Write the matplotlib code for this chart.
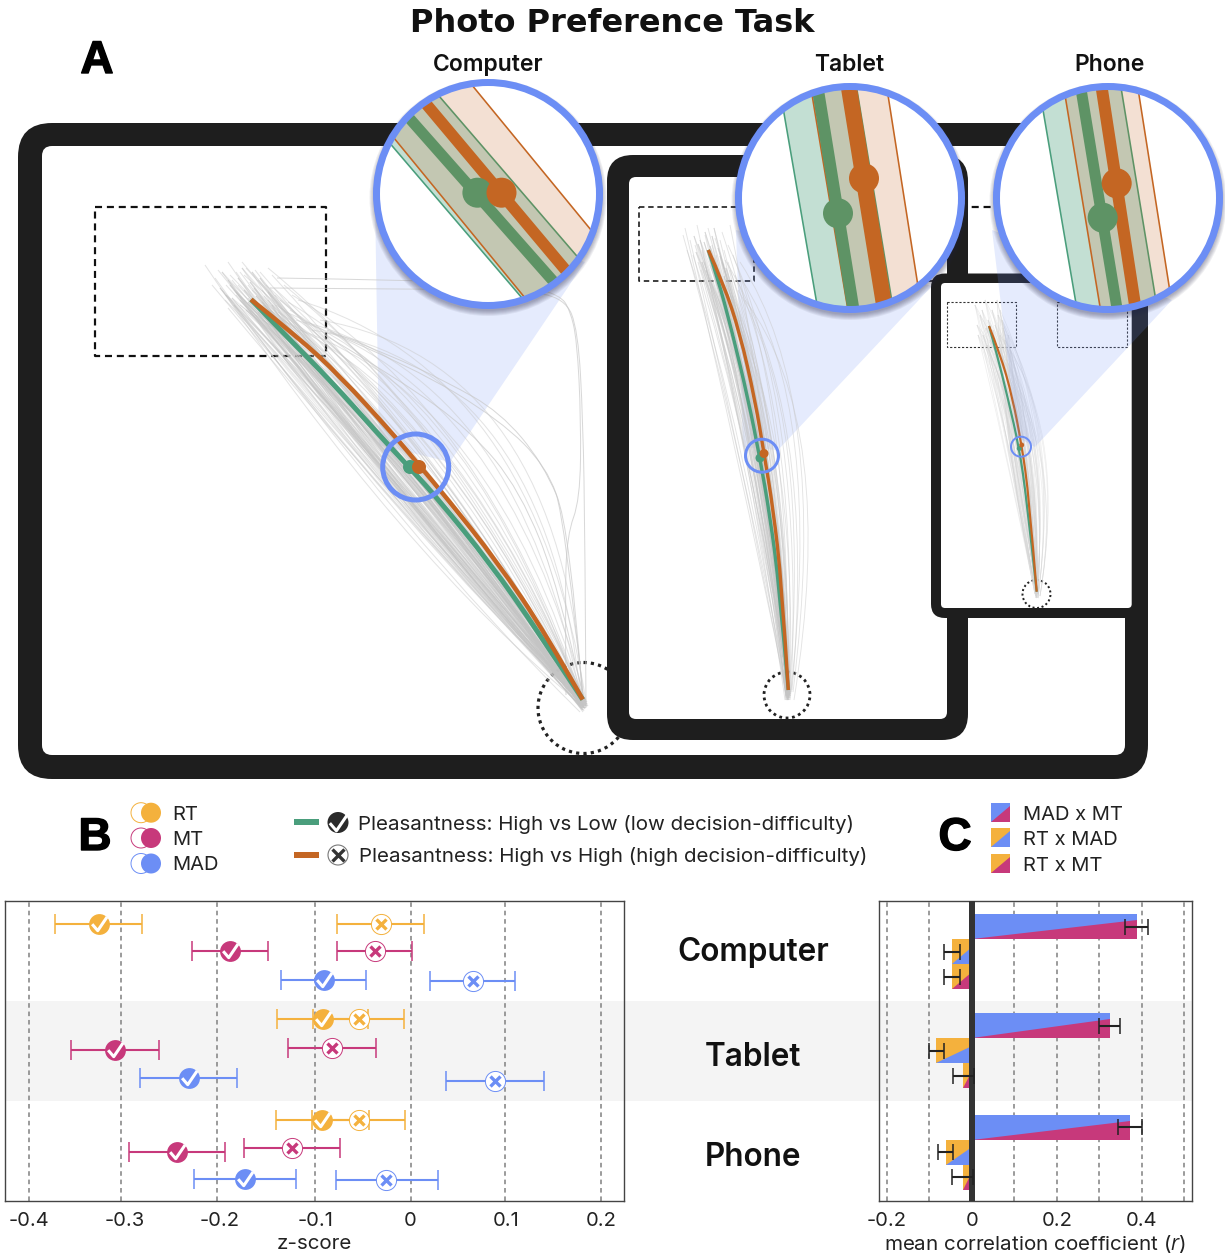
import matplotlib
matplotlib.use("Agg")
import matplotlib.pyplot as plt
import matplotlib.patheffects as pe
from matplotlib.patches import FancyBboxPatch, Circle, Polygon, PathPatch, Rectangle
from matplotlib.path import Path

plt.rcParams['font.family'] = ['Inter', 'DejaVu Sans']
plt.rcParams['mathtext.fontset'] = 'custom'
plt.rcParams['mathtext.it'] = 'Open Sans:italic'
plt.rcParams['mathtext.rm'] = 'Inter'

RT, MT, MAD = '#F4B13D', '#C7397B', '#6C8EF5'
GREEN, ORANGE = '#4A9E7C', '#C46623'
DGREEN = '#5E9365'
DARK = '#1E1E1E'
P = 0.72  # points per pixel

# ---- Panel B data ----
devices = ['Computer', 'Tablet', 'Phone']
measures = ['RT', 'MT', 'MAD']
b_ticks = [-0.4, -0.3, -0.2, -0.1, 0, 0.1, 0.2]
b_labels = ['-0.4', '-0.3', '-0.2', '-0.1', '0', '0.1', '0.2']
b_grid = [-0.4, -0.3035, -0.2035, -0.1003, 0, 0.0995, 0.1995]
check_mean = [-0.327, -0.189, -0.0908, -0.092, -0.310, -0.2326, -0.0925, -0.2454, -0.1739]
check_lo = [-0.3726, -0.229, -0.1358, -0.1396, -0.3567, -0.284, -0.1413, -0.2955, -0.227]
check_hi = [-0.2814, -0.150, -0.0467, -0.0445, -0.2642, -0.1816, -0.0437, -0.1949, -0.1203]
cross_mean = [-0.0308, -0.0368, 0.0655, -0.0544, -0.0822, 0.0891, -0.0544, -0.1246, -0.0253]
cross_lo = [-0.0767, -0.0767, 0.0206, -0.1019, -0.1285, 0.0377, -0.1036, -0.1752, -0.0779]
cross_hi = [0.0141, 0.002, 0.1092, -0.0073, -0.036, 0.1396, -0.0056, -0.0745, 0.0291]
check_row = [23, 50, 79, 118, 149, 177, 219, 251, 278]
cross_row = [23, 50, 80, 118, 147, 180, 219, 247, 279]
row_colors = [RT, MT, MAD] * 3

# ---- Panel C data ----
c_pairs = ['MAD x MT', 'RT x MAD', 'RT x MT']
c_vals = [0.389, -0.0463, -0.0463, 0.3247, -0.0831, -0.0196, 0.3725, -0.0604, -0.0212]
c_lo = [0.361, -0.0659, -0.0659, 0.300, -0.0996, -0.0447, 0.3435, -0.0784, -0.0455]
c_hi = [0.4157, -0.0267, -0.0267, 0.349, -0.0643, 0.0047, 0.4008, -0.0431, 0.0031]
c_top = [13, 38, 63, 112, 137, 162, 213.5, 238.5, 263.5]
c_height = 25
c_colors = [(MAD, MT), (RT, MAD), (RT, MT)] * 3
c_ticks = [-0.2, 0, 0.2, 0.4]
c_labels = ['-0.2', '0', '0.2', '0.4']
c_grid = [-0.2, -0.1, 0.1, 0.2, 0.3, 0.4, 0.5]

# ---- Panel A data (pixel positions on the device sketches) ----
comp_orange = [(251,299.5),(296.7,336),(340,376),(393,434),(419,465),(446.7,498),(496.7,561),(546.7,635),(582.7,699.5)]
comp_green = [(251,299.5),(290,340),(330,380),(380,436),(410,468),(438,499),(490,563),(537,630),(582.7,699.5)]
tab_orange = [(708.3,250),(723.3,283.3),(740,333.3),(755,400),(764,453.3),(773.3,510),(781.7,583.3),(788.3,690)]
tab_green = [(708.3,250),(717.3,276.7),(731.7,330),(748.3,400),(760,458.3),(770,516.7),(779.3,586.7),(788.3,690)]
pho_orange = [(989,326),(1000,353.3),(1012.3,396.7),(1021.7,445),(1029,496.7),(1036.7,591.7)]
pho_green = [(989,326),(996.7,353.3),(1008.3,400),(1019.3,448.3),(1026.7,500),(1036.7,591.7)]

comp_traj = [
 (205,265,400,555,585,708),(215,278,405,540,580,712),(228,262,410,530,586,706),(222,290,395,520,584,705),
 (232,280,420,515,582,710),(240,272,415,505,587,704),(212,285,392,500,583,700),(248,285,430,505,581,708),
 (236,295,400,490,585,702),(255,270,425,490,583,712),(244,300,412,480,586,700),(262,290,438,488,584,706),
 (225,300,398,475,582,704),(250,310,420,470,580,702),(268,300,440,475,585,709),(238,285,405,465,587,707),
 (258,280,428,462,583,703),(272,275,445,462,581,700),(246,268,418,455,584,708),(230,275,402,450,586,702),
 (263,305,432,452,582,706),(275,295,450,452,585,704),(252,290,422,445,583,700),(240,305,408,440,588,706),
 (266,285,436,438,584,711),(280,300,455,440,582,702),(256,315,425,432,586,705),(270,310,442,428,583,708),
 (284,285,462,430,585,700),(262,320,432,420,581,704),(276,305,452,418,586,708),(290,310,470,420,584,702),
 (244,275,420,425,583,706),(268,268,448,415,587,704),(282,320,465,408,582,700),(292,295,482,405,585,706),
 (300,330,495,400,584,702),(286,312,478,392,583,708),(296,320,505,385,585,700),(305,322,520,380,582,704),
 (298,300,535,372,586,702),(312,330,548,368,581,700),(320,320,560,362,584,706),(226,285,412,490,584,708),
 (218,270,404,500,586,704),(234,290,418,470,582,706),(242,262,426,480,585,700),(254,300,410,455,583,710),
 (260,272,434,470,587,702),(274,288,446,445,584,704),(248,298,414,460,586,708),(264,296,424,475,582,702),
 (278,312,458,425,583,706),(288,302,474,412,585,704),(228,308,396,510,582,708),(236,272,408,515,584,704),
]
comp_core = [
 (222,272,398,525,584,704),(230,285,402,512,582,708),(238,278,408,520,586,702),(226,295,396,500,583,706),
 (244,290,410,505,585,700),(234,305,400,498,581,704),(250,282,418,510,584,708),(240,300,406,490,586,706),
 (256,296,420,495,582,702),(228,280,404,505,583,710),(246,310,412,482,585,704),(262,302,426,488,584,700),
 (236,292,414,475,587,706),(252,272,422,480,582,708),(258,312,428,468,584,702),(268,292,434,476,586,704),
 (242,268,416,492,583,700),(232,298,398,488,585,708),(248,302,418,466,581,704),(266,316,436,462,584,706),
 (220,288,392,515,586,702),(254,288,424,472,583,706),(272,305,440,468,585,700),(260,278,430,484,582,704),
]
comp_outliers = [
 [(277,278),(400,280),(520,284),(560,295),(570,310),(577,340),(581,420),(580,500),(567,535),(565,600),(566,695)],
 [(270,288),(400,289),(520,290),(565,298),(578,330),(583,420),(585,540),(586,705)],
 [(327,330),(390,355),(447,382),(500,412),(543,463),(570,527),(583,703)],
 [(330,332),(413,367),(500,420),(547,467),(565,520),(584,705)],
 [(325,335),(400,380),(470,430),(520,490),(560,590),(585,705)],
]
tab_traj = [
 (685,228,735,441,788,700),(690,240,740,445,786,695),(697,225,745,440,790,698),(683,235,738,430,787,690),
 (702,250,750,450,785,700),(693,255,752,440,789,692),(705,235,755,435,788,696),(712,245,760,442,786,700),
 (698,262,748,432,790,690),(708,228,762,430,787,694),(716,255,765,445,789,698),(701,270,755,425,788,692),
 (720,240,770,435,786,690),(710,265,768,428,790,696),(724,250,775,438,788,700),(706,282,765,422,787,692),
 (715,238,778,430,789,695),(728,262,780,425,788,690),(718,275,782,432,786,698),(722,232,785,420,790,694),
 (730,270,788,428,787,690),(712,258,790,418,789,696),(726,285,792,430,788,692),(733,255,795,422,786,700),
 (720,290,798,415,790,690),(735,275,800,425,788,696),(728,245,805,410,791,692),(738,290,812,415,789,694),
 (725,260,818,408,792,690),(742,280,824,406,790,700),(730,225,772,432,788,698),(695,245,758,438,787,692),
 (687,250,746,436,786,696),(714,270,770,420,789,690),(732,295,786,410,790,694),(704,262,776,436,788,700),
 (740,262,830,400,793,692),(745,300,838,425,794,700),
]
tab_core = [
 (700,240,758,440,788,695),(705,232,762,436,787,690),(710,246,766,442,789,698),(696,252,755,434,786,692),
 (714,258,770,438,788,700),(702,262,764,430,790,694),(718,248,774,434,787,696),(706,270,768,426,789,690),
 (722,262,778,432,788,698),(712,236,772,440,786,692),(698,244,760,428,790,696),(716,272,776,424,787,700),
 (708,254,770,436,789,694),(724,276,782,428,788,690),(704,242,766,432,787,698),(720,256,780,438,790,692),
 (694,236,752,438,786,696),(726,268,784,422,788,694),(710,280,774,420,789,700),(714,228,768,434,787,690),
]
pho_traj = [
 (975,305,1000,430,1037,597),(980,315,1005,435,1036,592),(985,300,1010,430,1038,595),(977,325,1008,425,1035,590),
 (988,320,1015,432,1037,598),(983,335,1018,428,1036,590),(992,310,1020,430,1038,594),(986,328,1022,425,1037,592),
 (995,325,1025,432,1036,596),(990,340,1028,425,1038,590),(998,315,1030,430,1037,594),(993,330,1033,422,1036,598),
 (1000,335,1036,428,1038,590),(996,345,1040,420,1037,592),(1002,320,1044,425,1036,596),(1005,340,1048,418,1038,594),
 (1000,310,1052,420,1037,590),(1008,335,1060,430,1038,598),(982,310,1012,420,1036,590),(987,345,1024,435,1037,596),
 (997,300,1026,418,1038,592),(1003,328,1038,432,1036,594),(1010,350,1066,440,1040,596),(978,335,1003,438,1035,594),
]
shifts_core = [0, 5, 11]
shifts_pho = [0, 3, 7, 13]

mags = [
 dict(title='Computer', tx=488, c=(488,194),
      g1=((392.8,146.7),(522,298)), g2=((441,98.3),(577.4,256.7)),
      o1=((395.6,140),(524,296.7)), o2=((474.6,88.3),(591,230)),
      gl=((409.4,118.3),(553.7,281.7)), ol=((427,105),(565.5,270)), gw=11, ow=11.5,
      gd=(477.4,192.7), od=(501.5,192.7)),
 dict(title='Tablet', tx=849, c=(850,198),
      g1=((784,113.3),(816.5,301.7)), g2=((857,90),(891.7,300)),
      o1=((812.6,98.3),(847.4,306.7)), o2=((888.5,98.3),(917.3,281.7)),
      gl=((818.5,93.3),(853,306.7)), ol=((849.3,90),(883.7,303)), gw=12, ow=16,
      gd=(838,213.3), od=(864,178.3)),
 dict(title='Phone', tx=1110, c=(1108,198),
      g1=((1043.3,111.7),(1075.7,301.7)), g2=((1121.7,91.7),(1155,295)),
      o1=((1065.7,99.3),(1100,306.7)), o2=((1139,95),(1169.3,287.3)),
      gl=((1081.7,93.3),(1116.7,306.7)), ol=((1102.3,91.7),(1135,305)), gw=11, ow=12,
      gd=(1102.7,217.7), od=(1116.7,183.3)),
]

fig = plt.figure(figsize=(12.25, 12.53), dpi=100, facecolor='white')
pa = fig.add_axes([0, 0, 1, 1], zorder=0)
pa.set_xlim(0, 1225); pa.set_ylim(1253, 0); pa.axis('off')

def rbox(x0, y0, x1, y1, r, color, z):
    pa.add_patch(FancyBboxPatch((x0, y0), x1-x0, y1-y0, boxstyle=f'round,pad=0,rounding_size={r}',
                                fc=color, ec='none', zorder=z))

def dashed(x0, y0, x1, y1, lw, z, color='#111111', ls=(0, (3.2, 2.2))):
    pa.plot([x0, x1, x1, x0, x0], [y0, y0, y1, y1, y0], color=color, lw=lw*P, ls=ls, zorder=z)

def dotted(c, r, lw, z):
    pa.add_patch(Circle(c, r, fc='none', ec='#222222', lw=lw*P, ls=(0, (1, 1.3)), zorder=z))

def traj(rows, color, lw, alpha, z):
    for sx, sy, cx, cy, ex, ey in rows:
        path = Path([(sx, sy), (cx, cy), (ex, ey)], [Path.MOVETO, Path.CURVE3, Path.CURVE3])
        pa.add_patch(PathPatch(path, fc='none', ec=color, lw=lw*P, alpha=alpha, zorder=z))

def mixed(rows, shifts):
    # starts of one typed row paired with the bend and end of another typed row
    n = len(rows)
    return [rows[i][:2] + rows[(i+s) % n][2:] for s in shifts for i in range(n)]

def smooth(pts, color, lw, z, alpha=1.0):
    # curve passing along the typed points, drawn with the library's quadratic path segments
    verts = [pts[0]]; codes = [Path.MOVETO]
    for i in range(1, len(pts)-1):
        nxt = pts[i+1] if i == len(pts)-2 else ((pts[i][0]+pts[i+1][0])/2, (pts[i][1]+pts[i+1][1])/2)
        verts += [pts[i], nxt]; codes += [Path.CURVE3, Path.CURVE3]
    pa.add_patch(PathPatch(Path(verts, codes), fc='none', ec=color, lw=lw*P, alpha=alpha, zorder=z,
                           capstyle='butt'))

def ring(c, r, lw, z):
    pa.add_patch(Circle(c, r, fc='none', ec=MAD, lw=lw*P, zorder=z))

def cone(pts, z):
    pa.add_patch(Polygon(pts, closed=True, fc=MAD, ec='none', alpha=0.177, zorder=z))

# Computer
rbox(18, 123, 1148, 779, 34, DARK, 1)
rbox(42, 146, 1125, 755, 10, 'white', 1.1)
dashed(95, 207, 326, 356, 2.2, 1.2)
dashed(841, 207, 1072, 356, 2.2, 1.2)
dotted((583.5, 708), 45.5, 3.2, 1.2)
cone([(375, 200), (379, 445), (450, 462), (585, 262)], 1.3)
traj(comp_traj, '#c8c8c8', 1.0, 0.5, 1.4)
traj(mixed(comp_core, shifts_core), '#c4c4c4', 1.0, 0.35, 1.4)
for o in comp_outliers:
    smooth(o, '#c8c8c8', 1.0, 1.4, alpha=0.7)
smooth(comp_green, GREEN, 5, 1.5)
smooth(comp_orange, ORANGE, 4.5, 1.55)
pa.add_patch(Circle((410, 467), 7, fc=GREEN, zorder=1.6))
pa.add_patch(Circle((419, 467), 7, fc=ORANGE, zorder=1.65))
ring((415.7, 467), 33, 5, 1.7)

# Tablet
rbox(607, 155, 968, 740, 26, DARK, 2)
rbox(629, 177, 947, 719, 7, 'white', 2.1)
dashed(639, 207, 754, 281, 1.7, 2.2, color='#222222')
dashed(822, 207, 937, 281, 1.7, 2.2, color='#222222')
dotted((787, 695), 23, 2.8, 2.2)
traj(tab_traj, '#c8c8c8', 0.9, 0.5, 2.3)
traj(mixed(tab_core, shifts_core), '#c4c4c4', 0.9, 0.35, 2.3)
smooth(tab_green, GREEN, 3.4, 2.5)
smooth(tab_orange, ORANGE, 3.4, 2.55)
pa.add_patch(Circle((760, 458), 4.5, fc=GREEN, zorder=2.6))
pa.add_patch(Circle((764, 453.5), 4.5, fc=ORANGE, zorder=2.65))
ring((762, 455.7), 16.5, 3, 2.7)
cone([(736, 230), (743, 447), (778, 450), (932, 286)], 2.25)

# Phone
rbox(931, 273.5, 1147.7, 618, 14, DARK, 3)
rbox(941, 283, 1131.7, 608, 4, 'white', 3.1)
dashed(947, 302, 1016, 347, 1.1, 3.2, color='#333333', ls=(0, (2, 1.6)))
dashed(1057, 302, 1127, 347, 1.1, 3.2, color='#333333', ls=(0, (2, 1.6)))
dotted((1036.5, 594), 14, 2, 3.2)
traj(mixed(pho_traj, shifts_pho), '#d4d4d4', 0.7, 0.4, 3.3)
smooth(pho_green, GREEN, 2.2, 3.5)
smooth(pho_orange, ORANGE, 2.2, 3.55)
pa.add_patch(Circle((1019.3, 448.5), 2.5, fc=GREEN, zorder=3.6))
pa.add_patch(Circle((1021.7, 445), 2.5, fc=ORANGE, zorder=3.65))
ring((1021, 446.7), 10, 2, 3.7)
cone([(992, 230), (1017, 437), (1035, 447), (1172, 300)], 3.8)

def ext(seg, f=0.25):
    (x0, y0), (x1, y1) = seg
    dx, dy = x1-x0, y1-y0
    return (x0-f*dx, y0-f*dy), (x1+f*dx, y1+f*dy)

Z = 5
for m in mags:
    cx, cy = m['c']
    for k in range(6):
        pa.add_patch(Circle((cx, cy+3.5), 113.5+k*1.0, fc='#222244', ec='none', alpha=0.07, zorder=Z))
    disc = Circle((cx, cy), 109, fc='white', ec='none', zorder=Z+0.1)
    pa.add_patch(disc)
    g1 = ext(m['g1']); g2 = ext(m['g2']); o1 = ext(m['o1']); o2 = ext(m['o2'])
    arts = []
    arts.append(Polygon([g1[0], g1[1], g2[1], g2[0]], fc='#C3DFD3', ec='none', zorder=Z+0.2))
    arts.append(Polygon([o1[0], o1[1], o2[1], o2[0]], fc='#F3E0D3', ec='none', zorder=Z+0.21))
    arts.append(Polygon([o1[0], o1[1], g2[1], g2[0]], fc='#C3C7B2', ec='none', zorder=Z+0.22))
    for a in arts:
        pa.add_patch(a); a.set_clip_path(disc)
    lines = [(g1, GREEN, 1.6), (g2, DGREEN, 1.6), (o1, ORANGE, 1.6), (o2, ORANGE, 1.6),
             (ext(m['gl']), DGREEN, m['gw']), (ext(m['ol']), ORANGE, m['ow'])]
    for i, (seg, col, lw) in enumerate(lines):
        l, = pa.plot([seg[0][0], seg[1][0]], [seg[0][1], seg[1][1]], color=col, lw=lw*P,
                     zorder=Z+0.3+i*0.01, solid_capstyle='butt')
        l.set_clip_path(disc)
    pa.add_patch(Circle(m['gd'], 15, fc=DGREEN, zorder=Z+0.4))
    pa.add_patch(Circle(m['od'], 15, fc=ORANGE, zorder=Z+0.41))
    ring((cx, cy), 111.5, 7, Z+0.5)
    pa.text(m['tx'], 65, m['title'], ha='center', va='center', fontsize=16.5, fontweight='semibold', color='#111111', zorder=Z+1)

# Titles and panel letters
pa.text(612.5, 24, 'Photo Preference Task', ha='center', va='center', fontsize=23, fontweight='bold',
        family='DejaVu Sans', color='#111111', zorder=9)
for s, x, y in [('A', 97, 61), ('B', 95, 838), ('C', 955, 838)]:
    pa.text(x, y, s, ha='center', va='center', fontsize=33, fontweight='bold', family='Liberation Sans',
            color='black', zorder=9, path_effects=[pe.withStroke(linewidth=1.0, foreground='black')])

# Band behind the Tablet row and row titles
pa.add_patch(Rectangle((5, 1001), 1187, 100, fc='#F4F4F4', ec='none', zorder=0.1))
for name, y in zip(devices, [952, 1057, 1157]):
    pa.text(753, y, name, ha='center', va='center', fontsize=22.7, fontweight='semibold', color='#111111', zorder=9)

# Legends
check_path = Path([(-0.5, 0.02), (-0.12, -0.42), (0.52, 0.52)], [Path.MOVETO, Path.LINETO, Path.LINETO])
for name, col, y in zip(measures, [RT, MT, MAD], [812.7, 838, 863.5]):
    pa.add_patch(Circle((141, y), 10, fc='white', ec=col, lw=0.7, zorder=2))
    pa.add_patch(Circle((151, y), 10, fc=col, ec='none', zorder=2.1))
    pa.text(172, y+2, name, ha='left', va='center', fontsize=14.5, color='#222222', zorder=9)

pa.plot([294, 319], [822, 822], color=GREEN, lw=6*P, solid_capstyle='butt')
pa.plot([294, 319], [855, 855], color=ORANGE, lw=6*P, solid_capstyle='butt')
pa.add_patch(Circle((338, 822.5), 10.5, fc='#2a2a2a', zorder=2))
pa.plot([338], [822.5], marker=check_path, ms=13, mfc='none', mec='white', mew=2.2, zorder=3)
pa.add_patch(Circle((338, 855), 10, fc='white', ec='#777777', lw=0.8, zorder=2))
pa.plot([338], [855], marker='x', ms=8.5, mec='#333333', mew=2.4, zorder=3)
pa.text(357.5, 824, 'Pleasantness: High vs Low (low decision-difficulty)', ha='left', va='center',
        fontsize=14.8, color='#222222')
pa.text(359, 857, 'Pleasantness: High vs High (high decision-difficulty)', ha='left', va='center',
        fontsize=14.8, color='#222222')

for (a, b), name, y0 in zip(c_colors[:3], c_pairs, [803, 828, 853.7]):
    x0, x1, y1 = 990.7, 1009.7, y0+19
    pa.add_patch(Rectangle((x0, y0), 19, 19, fc=a, ec='none'))
    pa.add_patch(Polygon([(x0, y1), (x1, y1), (x1, y0+3)], fc=b, ec='none'))
    pa.text(1023, y0+12, name, ha='left', va='center', fontsize=14.5, color='#222222')

# ---- Panel B ----
W, H = 1225, 1253
ax = fig.add_axes([5/W, 1-1201/H, 619/W, 300/H], zorder=2, facecolor='none')
ax.set_xlim(-0.4255, 0.224); ax.set_ylim(300, 0)
for t in b_grid:
    ax.axvline(t, color='#808080', lw=1.1, ls=(0, (3, 2.5)), zorder=1)
for i, col in enumerate(row_colors):
    ax.errorbar(check_mean[i], check_row[i],
                xerr=[[check_mean[i]-check_lo[i]], [check_hi[i]-check_mean[i]]],
                color=col, lw=1.5, capsize=7, capthick=1.1, zorder=2)
    ax.errorbar(cross_mean[i], cross_row[i],
                xerr=[[cross_mean[i]-cross_lo[i]], [cross_hi[i]-cross_mean[i]]],
                color=col, lw=1.5, capsize=7, capthick=1.1, zorder=2)
    ax.plot(check_mean[i], check_row[i], 'o', ms=15, mfc=col, mec='none', zorder=3)
    ax.plot(check_mean[i], check_row[i], marker=check_path, ms=11, mfc='none', mec='white', mew=2.2, zorder=4)
    ax.plot(cross_mean[i], cross_row[i], 'o', ms=14.5, mfc='white', mec=col, mew=0.7, zorder=3)
    ax.plot(cross_mean[i], cross_row[i], marker='x', ms=7.5, mec=col, mew=2.4, zorder=4)
ax.set_yticks([])
ax.set_xticks(b_ticks); ax.set_xticklabels(b_labels)
ax.tick_params(axis='x', length=0, labelsize=14.5, pad=8, labelcolor='#222222')
for s in ax.spines.values():
    s.set_color('#444444'); s.set_linewidth(1.0)
pa.text(314.5, 1244, 'z-score', ha='center', va='center', fontsize=14.8, color='#222222')

# ---- Panel C ----
ac = fig.add_axes([879/W, 1-1201/H, 312.7/W, 300/H], zorder=2, facecolor='none')
ac.set_xlim(-0.218, 0.5176); ac.set_ylim(300, 0)
for t in c_grid:
    ac.axvline(t, color='#808080', lw=1.1, ls=(0, (3, 2.5)), zorder=1)
for i, v in enumerate(c_vals):
    a, b = c_colors[i]
    top, bot = c_top[i], c_top[i]+c_height
    ac.barh(top, v, height=c_height, align='edge', color=a, zorder=2)
    if v > 0:
        ac.fill([0, v, v], [bot, bot, top+c_height*0.25], color=b, lw=0, zorder=2.1)
    else:
        ac.fill([0, 0, v], [top+c_height*0.3, bot, bot], color=b, lw=0, zorder=2.1)
    ac.errorbar((c_lo[i]+c_hi[i])/2, (top+bot)/2, xerr=[[(c_hi[i]-c_lo[i])/2]], color='#222222',
                lw=1.5, capsize=6, capthick=1.1, zorder=4)
ac.axvline(0, color='#333333', lw=6*P, zorder=3)
ac.set_yticks([])
ac.set_xticks(c_ticks); ac.set_xticklabels(c_labels)
ac.tick_params(axis='x', length=0, labelsize=14.5, pad=8, labelcolor='#222222')
for s in ac.spines.values():
    s.set_color('#444444'); s.set_linewidth(1.0)
pa.text(1035, 1244, r'mean correlation coefficient ($\mathit{r}$)', ha='center', va='center',
        fontsize=14.8, color='#222222')

fig.savefig('out.png', dpi=100)
